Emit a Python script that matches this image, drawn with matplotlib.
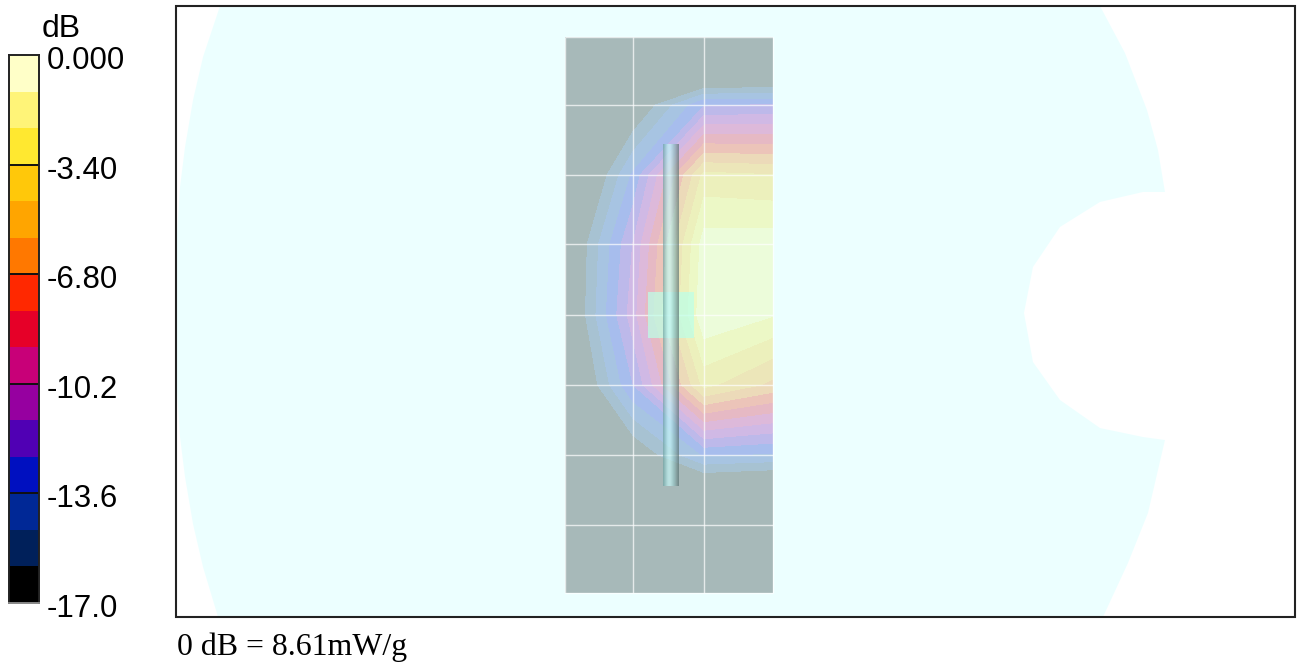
import matplotlib
matplotlib.use("Agg")
import matplotlib.pyplot as plt
import numpy as np
from matplotlib.colors import BoundaryNorm, ListedColormap
from matplotlib.patches import Polygon, Rectangle

WIDTH_PX, HEIGHT_PX = 1297, 667
DPI = 100

# color scale, bottom to top
DB_LEVELS = np.linspace(-17.0, 0.0, 16)
BAND_COLORS = [
    "#000000", "#00205A", "#002896", "#0010C0", "#5000B4",
    "#9600A0", "#C80078", "#E60028", "#FF2800", "#FF7800",
    "#FFA500", "#FFC80A", "#FFE830", "#FFF478", "#FFFFC8",
]
TICK_VALUES = [0.0, -3.4, -6.8, -10.2, -13.6, -17.0]
TICK_LABELS = ["0.000", "-3.40", "-6.80", "-10.2", "-13.6", "-17.0"]

# scan grid (image pixels) and SAR in dB at the nodes
GRID_X = [565, 633, 704, 773]
GRID_Y = [37, 105, 175, 244, 315, 385, 455, 525, 593]
SAR_X565 = [-27.0, -23.0, -19.9, -18.1, -18.1, -19.0, -22.0, -26.0, -28.0]
SAR_X633 = [-26.0, -17.4, -13.4, -11.3, -10.7, -12.5, -17.2, -24.0, -28.0]
SAR_X704 = [-26.0, -12.6, -4.2, -1.7, -1.3, -4.2, -13.5, -23.0, -28.0]
SAR_X773 = [-26.0, -12.4, -4.5, -1.6, -2.2, -6.0, -13.8, -23.6, -28.0]

# phantom outline, image pixels
PHANTOM_X = [220, 1100, 1125, 1147, 1158, 1165, 1143, 1100, 1060, 1033, 1024, 1033, 1060,
             1100, 1143, 1165, 1148, 1128, 1103, 218, 203, 193, 185, 180, 177, 176, 177, 180, 185, 193, 203]
PHANTOM_Y = [6, 6, 53, 110, 150, 192, 192, 202, 227, 267, 313, 362, 400,
             428, 437, 440, 513, 563, 617, 617, 567, 524, 477, 437, 391, 312, 233, 187, 147, 100, 57]

ROD_COLORS = ["#74A8A8", "#8CC4C4", "#A6DADA", "#BBEEEE", "#C6F7F7", "#C4F4F4", "#B4E4E4", "#A0D0D0",
              "#90BCBC", "#84A8A8", "#708E8E", "#5C7676"]
GRID_COLOR = "#FFFFFF"
TEXT_COLOR = "#000000"


def draw_scan(ax):
    z = np.array([SAR_X565, SAR_X633, SAR_X704, SAR_X773]).T
    cmap = ListedColormap(BAND_COLORS)
    cmap.set_under(BAND_COLORS[0])
    norm = BoundaryNorm(DB_LEVELS, cmap.N)
    ax.contourf(GRID_X, GRID_Y, z, levels=DB_LEVELS, cmap=cmap, norm=norm, extend="min", zorder=1)

    # phantom shell sits over the scan, the scan colors only show through it
    outline = np.column_stack([PHANTOM_X, PHANTOM_Y])
    ax.add_patch(Polygon(outline, closed=True, facecolor="#E6FFFF", edgecolor="none", alpha=0.73, zorder=2))

    ax.vlines(GRID_X, GRID_Y[0], GRID_Y[-1], color=GRID_COLOR, lw=1.0, alpha=0.7, zorder=3)
    ax.hlines(GRID_Y, GRID_X[0], GRID_X[-1], color=GRID_COLOR, lw=1.0, alpha=0.7, zorder=3)

    # dipole feed block and rod
    ax.add_patch(Rectangle((648, 292), 46, 46, facecolor="#BCFFE8", edgecolor="none", alpha=0.72, zorder=4))
    rod = np.array([matplotlib.colors.to_rgba(c, 0.68) for c in ROD_COLORS])[np.newaxis, :, :]
    ax.imshow(rod, extent=(663, 679, 486, 144), aspect="auto", interpolation="bilinear", zorder=5)


def draw_colorbar(fig):
    top, bottom = 55, 603
    cax = fig.add_axes([9 / WIDTH_PX, 1 - bottom / HEIGHT_PX, 30 / WIDTH_PX, (bottom - top) / HEIGHT_PX])
    cmap = ListedColormap(BAND_COLORS)
    cax.pcolormesh([0, 1], DB_LEVELS, np.arange(15)[:, np.newaxis], cmap=cmap, shading="flat")
    cax.set_xlim(0, 1)
    cax.set_ylim(-17, 0)
    cax.set_xticks([])
    cax.set_yticks([])
    for name, spine in cax.spines.items():
        spine.set_linewidth(1.4)
        spine.set_edgecolor("#222222" if name != "bottom" else "#888888")
    cax.hlines(TICK_VALUES[1:-1], 0, 1, color="#111111", lw=1.4)
    for value, label in zip(TICK_VALUES, TICK_LABELS):
        cax.annotate(label, xy=(1, value), xytext=(8, -14), textcoords="offset pixels", xycoords="data",
                     ha="left", va="baseline", fontsize=22.5, family="Liberation Sans", color=TEXT_COLOR,
                     annotation_clip=False)


def main():
    fig = plt.figure(figsize=(WIDTH_PX / DPI, HEIGHT_PX / DPI), dpi=DPI, facecolor="white")
    ax = fig.add_axes([0, 0, 1, 1])
    draw_scan(ax)
    ax.set_xlim(0, WIDTH_PX)
    ax.set_ylim(HEIGHT_PX, 0)
    ax.axis("off")

    ax.add_patch(Rectangle((176, 6), 1119, 611, facecolor="none", edgecolor="#222222", lw=1.5, zorder=6))
    ax.text(61, 37, "dB", ha="center", va="baseline", fontsize=23, family="Liberation Sans", color=TEXT_COLOR)
    ax.text(177, 655, "0 dB = 8.61mW/g", ha="left", va="baseline", fontsize=22.9,
            family="Liberation Serif", color="#000000")

    draw_colorbar(fig)
    fig.savefig("out.png", dpi=DPI)


if __name__ == "__main__":
    main()
